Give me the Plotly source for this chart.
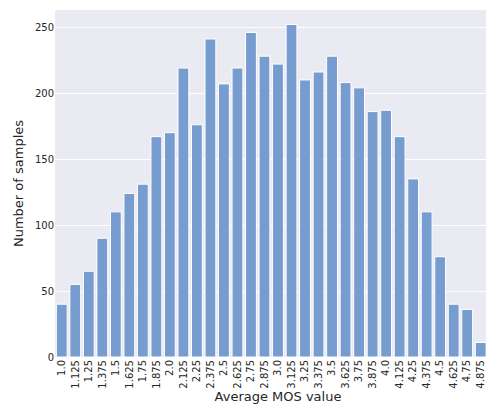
import plotly.graph_objects as go

categories = ["1.0","1.125","1.25","1.375","1.5","1.625","1.75","1.875","2.0","2.125","2.25","2.375","2.5","2.625","2.75","2.875","3.0","3.125","3.25","3.375","3.5","3.625","3.75","3.875","4.0","4.125","4.25","4.375","4.5","4.625","4.75","4.875","5.0"]
counts = [40,55,65,90,110,124,131,167,170,219,176,241,207,219,246,228,222,252,210,216,228,208,204,186,187,167,135,110,76,40,36,11,13]
y_ticks = [0,50,100,150,200,250]

fig = go.Figure(go.Bar(x=categories, y=counts, marker=dict(color="#779ccf", line=dict(color="white", width=1)), width=0.8))
fig.update_layout(
    width=494, height=406,
    margin=dict(l=47, r=1, t=2, b=57),
    paper_bgcolor="white", plot_bgcolor="#eaeaf2",
    font=dict(family="DejaVu Sans", color="#262626", size=10),
    bargap=0.2, showlegend=False,
)
fig.update_xaxes(type="category", categoryorder="array", categoryarray=categories,
                 range=[-0.5, len(categories) - 0.5], automargin=False,
                 tickangle=-90, showgrid=False, ticks="", tickfont=dict(size=10),
                 title=dict(text="Average MOS value", font=dict(size=13), standoff=2))
fig.update_yaxes(range=[0,263], tickvals=y_ticks, gridcolor="white", gridwidth=1, zeroline=False, ticks="",
                 automargin=False,
                 tickfont=dict(size=10), title=dict(text="Number of samples", font=dict(size=13), standoff=8))
fig.write_html("out.html")
